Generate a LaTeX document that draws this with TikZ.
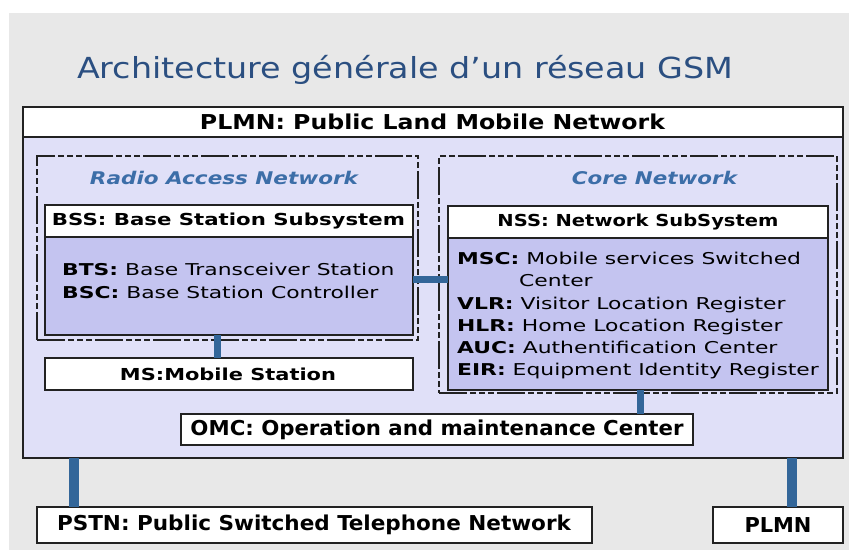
\documentclass[tikz,border=0pt]{standalone}
\usepackage{fontspec}
\usepackage{graphicx}
\setmainfont{DejaVu Sans}
\newfontfamily\tahoma{DejaVu Sans Condensed}
\newcommand\fitw[2]{\resizebox{#1}{\height}{#2}}
\newcommand\bodyx[1]{\scalebox{1.34}[1]{#1}}
\definecolor{bgrey}{HTML}{E8E8E8}
\definecolor{lav}{HTML}{E0E0F8}
\definecolor{lavdark}{HTML}{C4C4F0}
\definecolor{conn}{HTML}{336699}
\definecolor{titleblue}{HTML}{2B4F81}
\definecolor{ital}{HTML}{3C6EA8}
\definecolor{edge}{HTML}{222222}
\tikzset{
  frame/.style={draw=edge, line width=1.4pt, inner sep=0pt, outer sep=0pt, anchor=north west},
  whitebox/.style={frame, fill=white},
  lavbox/.style={frame, fill=lav},
  darkbox/.style={frame, fill=lavdark},
  dashbox/.style={draw=edge, line width=1.1pt, inner sep=0pt, outer sep=0pt, anchor=north west,
     dash pattern=on 28pt off 3pt on 6pt off 3pt on 6pt off 3pt on 6pt off 3pt},
  link/.style={draw=conn, line width=7pt},
  biglink/.style={draw=conn, line width=9.5pt},
  lbl/.style={inner sep=0pt, text=black},
  hdr/.style={lbl, font=\tahoma\bfseries\fontsize{20.5}{23}\selectfont},
  vhdr/.style={lbl, font=\bfseries\fontsize{16.5}{19}\selectfont},
  body/.style={lbl, anchor=base west, font=\fontsize{16.3}{19}\selectfont},
  ihdr/.style={lbl, text=ital, font=\bfseries\itshape\fontsize{17.5}{20}\selectfont},
}
\begin{document}
\begin{tikzpicture}[x=1pt,y=-1pt]
\useasboundingbox (0,0) rectangle (849,551);
\fill[bgrey] (9,13) rectangle (849,550);
% title
\node[lbl, anchor=base west, text=titleblue, font=\tahoma\fontsize{29}{32}\selectfont] (title) at (77,78) {\fitw{656pt}{Architecture générale d’un réseau GSM}};
% outer PLMN
\node[lavbox, minimum width=820pt, minimum height=351pt] (plmnbody) at (23,107) {};
\node[whitebox, minimum width=820pt, minimum height=30pt] (plmnhead) at (23,107) {};
\node[hdr] (plmntxt) at (432.5,122) {\fitw{465pt}{PLMN: Public Land Mobile Network}};
% dashed areas
\node[dashbox, minimum width=381pt, minimum height=184pt] (ran) at (37,156) {};
\node[dashbox, minimum width=398pt, minimum height=237pt] (core) at (439,156) {};
\node[ihdr] (rantxt) at (224,178) {\fitw{268pt}{Radio Access Network}};
\node[ihdr] (coretxt) at (654.5,178) {\fitw{165pt}{Core Network}};
% BSS
\node[darkbox, minimum width=368pt, minimum height=130pt] (bss) at (45,205) {};
\node[whitebox, minimum width=368pt, minimum height=32pt] (bsshead) at (45,205) {};
\node[vhdr] (bsstxt) at (228.5,221) {\fitw{353pt}{BSS: Base Station Subsystem}};
\node[body] (bts) at (62,275) {\bodyx{\textbf{BTS:} Base Transceiver Station}};
\node[body] (bsc) at (62,298) {\bodyx{\textbf{BSC:} Base Station Controller}};
% MS
\node[whitebox, minimum width=368pt, minimum height=32pt] (ms) at (45,358) {};
\node[vhdr] (mstxt) at (228,374) {\fitw{216pt}{MS:Mobile Station}};
% NSS
\node[darkbox, minimum width=380pt, minimum height=184pt] (nss) at (448,206) {};
\node[whitebox, minimum width=380pt, minimum height=32pt] (nsshead) at (448,206) {};
\node[vhdr] (nsstxt) at (638,222) {\fitw{281pt}{NSS: Network SubSystem}};
\node[body] (msc) at (457,264) {\bodyx{\textbf{MSC:} Mobile services Switched}};
\node[body] (mscb) at (519,286) {\bodyx{Center}};
\node[body] (vlr) at (457,309) {\bodyx{\textbf{VLR:} Visitor Location Register}};
\node[body] (hlr) at (457,331) {\bodyx{\textbf{HLR:} Home Location Register}};
\node[body] (auc) at (457,353) {\bodyx{\textbf{AUC:} Authentification Center}};
\node[body] (eir) at (457,375) {\bodyx{\textbf{EIR:} Equipment Identity Register}};
% OMC
\node[whitebox, minimum width=512pt, minimum height=31pt] (omc) at (181,414) {};
\node[hdr] (omctxt) at (437,430) {\fitw{493pt}{OMC: Operation and maintenance Center}};
% external
\node[whitebox, minimum width=555pt, minimum height=36pt] (pstn) at (37,507) {};
\node[hdr] (pstntxt) at (314,525) {\fitw{514pt}{PSTN: Public Switched Telephone Network}};
\node[whitebox, minimum width=130pt, minimum height=36pt] (plmn2) at (713,507) {};
\node[hdr] (plmn2txt) at (778,525) {\fitw{67pt}{PLMN}};
% connectors
\coordinate (xa) at (217,0);
\coordinate (ya) at (0,279);
\coordinate (xb) at (640,0);
\coordinate (xc) at (74,0);
\coordinate (xd) at (792,0);
\draw[link] (bss.south -| xa) -- (ms.north -| xa);
\draw[link] (bss.east |- ya) -- (nss.west |- ya);
\draw[link] (nss.south -| xb) -- (omc.north -| xb);
\draw[biglink] (plmnbody.south -| xc) -- (pstn.north -| xc);
\draw[biglink] (plmnbody.south -| xd) -- (plmn2.north -| xd);
\end{tikzpicture}
\end{document}
